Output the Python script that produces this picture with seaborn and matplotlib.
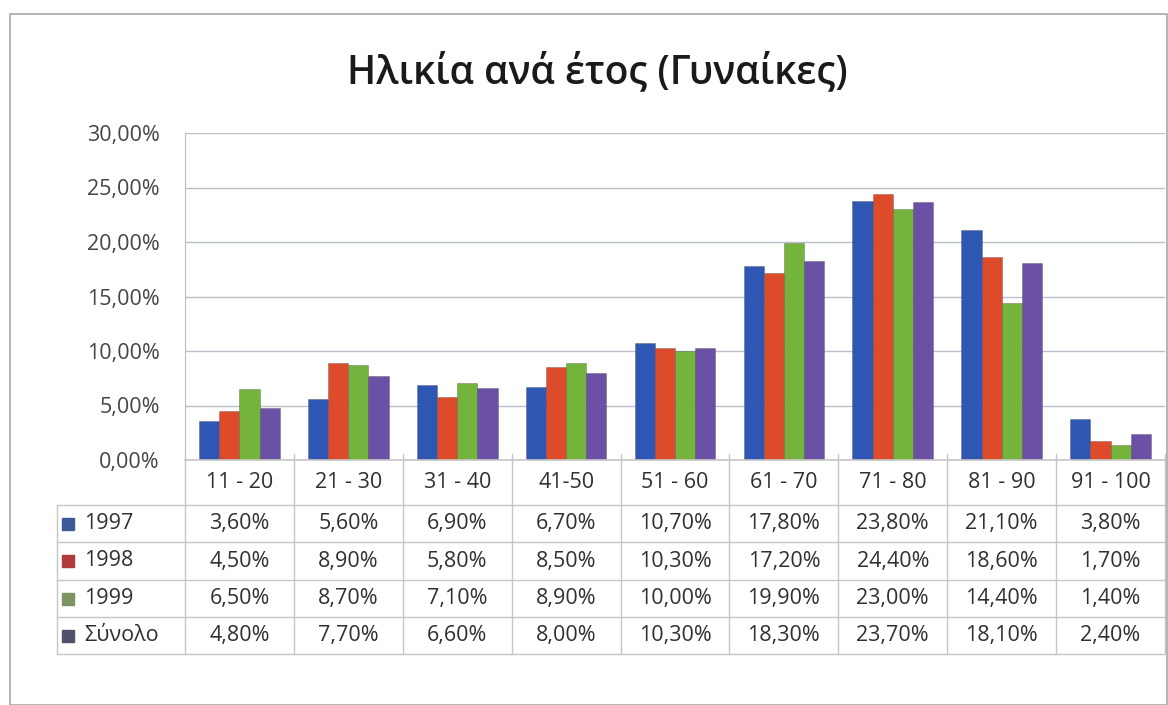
import matplotlib

matplotlib.use("Agg")
import matplotlib.pyplot as plt  # noqa: E402
import pandas as pd  # noqa: E402
import seaborn as sns  # noqa: E402
from matplotlib.patches import Rectangle  # noqa: E402

categories = ["11 - 20", "21 - 30", "31 - 40", "41-50", "51 - 60",
              "61 - 70", "71 - 80", "81 - 90", "91 - 100"]
series = ["1997", "1998", "1999", "Σύνολο"]
v1997 = [3.6, 5.6, 6.9, 6.7, 10.7, 17.8, 23.8, 21.1, 3.8]
v1998 = [4.5, 8.9, 5.8, 8.5, 10.3, 17.2, 24.4, 18.6, 1.7]
v1999 = [6.5, 8.7, 7.1, 8.9, 10.0, 19.9, 23.0, 14.4, 1.4]
vtotal = [4.8, 7.7, 6.6, 8.0, 10.3, 18.3, 23.7, 18.1, 2.4]
yticks = [0, 5, 10, 15, 20, 25, 30]
title = "Ηλικία ανά έτος (Γυναίκες)"

values = [v1997, v1998, v1999, vtotal]
bar_colors = ["#2f56b3", "#de4b2a", "#74b43c", "#6a51a6"]
key_colors = ["#3d5a98", "#b23a3a", "#7d9463", "#52516c"]

df = pd.DataFrame(
    [(c, s, v) for s, vals in zip(series, values) for c, v in zip(categories, vals)],
    columns=["age", "series", "pct"],
)


def pct(v):
    return f"{v:.2f}%".replace(".", ",")


sns.set_style("white")
plt.rcParams["font.family"] = ["Open Sans", "DejaVu Sans"]

W, H = 1168, 705
fig = plt.figure(figsize=(W / 100, H / 100), dpi=100)
fig.patch.set_facecolor("white")

# outer chart frame
fig.add_artist(Rectangle((10 / W, 0), (W - 11) / W, (H - 14) / H,
                         transform=fig.transFigure, fill=False,
                         ec="#a8a8a8", lw=1.2))

x0, x1 = 185, 1165
ax = fig.add_axes([x0 / W, 1 - 460 / H, (x1 - x0) / W, (460 - 133) / H])
sns.barplot(data=df, x="age", y="pct", hue="series", order=categories,
            hue_order=series, palette=bar_colors, saturation=1, width=0.74,
            legend=False, ax=ax, edgecolor="#33333355", linewidth=0.6)
ax.set_xlim(-0.5, len(categories) - 0.5)
ax.set_ylim(0, 30)
ax.set_yticks(yticks)
ax.set_yticklabels([pct(t) for t in yticks], fontsize=15.5, color="#454545")
ax.set_xticks([])
ax.set_xlabel("")
ax.set_ylabel("")
ax.grid(axis="y", color="#b9bfc9", lw=1)
ax.set_axisbelow(True)
for side in ["top", "right", "bottom"]:
    ax.spines[side].set_visible(False)
ax.spines["left"].set_color("#b9bfc9")
ax.tick_params(axis="y", length=0, pad=18)
fig.text(0.511, 1 - 73 / H, title, ha="center", va="center",
         fontsize=28, fontweight="semibold", color="#1a1a1a")

# ---- data table under the bars ----
tab = fig.add_axes([x0 / W, 1 - 654 / H, (x1 - x0) / W, (654 - 460) / H])
tab.set_xlim(-0.5, len(categories) - 0.5)
tab.set_ylim(654, 460)
tab.axis("off")
rows = [460, 505, 542, 580, 617, 654]
key_left = -0.5 - (x0 - 57) / ((x1 - x0) / len(categories))
lc = "#c6c6c6"

tab.plot([-0.5, len(categories) - 0.5], [rows[0]] * 2, color=lc, lw=1.2, clip_on=False)
for y in rows[1:]:
    tab.plot([key_left, len(categories) - 0.5], [y, y], color=lc, lw=1, clip_on=False)
for i in range(len(categories) + 1):
    tab.plot([i - 0.5, i - 0.5], [rows[0] - 6, rows[-1]], color=lc, lw=1, clip_on=False)
tab.plot([key_left, key_left], [rows[1], rows[-1]], color=lc, lw=1, clip_on=False)

fs = 15.5
for i, c in enumerate(categories):
    tab.text(i, (rows[0] + rows[1]) / 2, c, ha="center", va="center",
             fontsize=fs, color="#303030")
for r, (s, vals, kc) in enumerate(zip(series, values, key_colors)):
    yc = (rows[r + 1] + rows[r + 2]) / 2
    tab.add_patch(Rectangle((key_left + 0.05, yc - 6), 0.11, 12, color=kc, clip_on=False))
    tab.text(key_left + 0.25, yc, s, ha="left", va="center", fontsize=fs,
             color="#303030", clip_on=False)
    for i, v in enumerate(vals):
        tab.text(i, yc, pct(v), ha="center", va="center", fontsize=fs, color="#303030")

fig.savefig("out.png", dpi=100)
